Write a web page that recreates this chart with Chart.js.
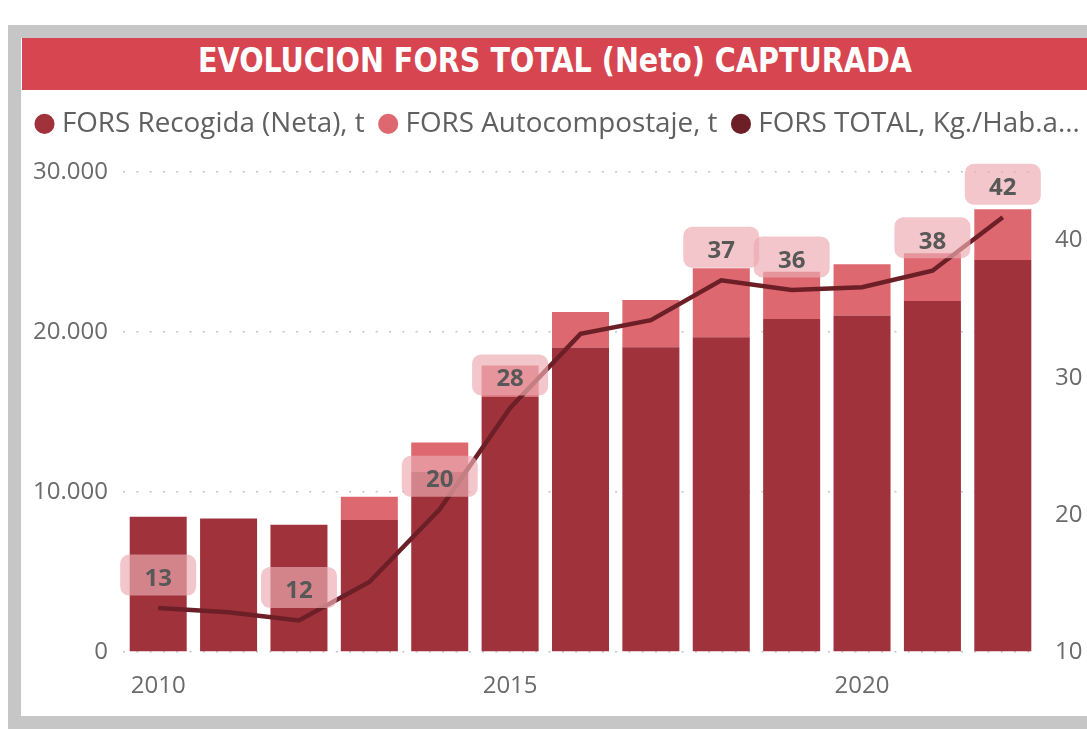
<!DOCTYPE html>
<html>
<head>
<meta charset="utf-8">
<script src="https://cdn.jsdelivr.net/npm/chart.js@4"></script>
<style>
    html, body { margin: 0; padding: 0; width: 1087px; height: 729px; overflow: hidden; background: #fff; }
    .frame { position: absolute; left: 8px; top: 25px; width: 1100px; height: 720px; background: #c6c6c6; }
    .panel { position: absolute; left: 21px; top: 38px; width: 1100px; height: 678px; background: #fff; }
    .title-bar {
        position: absolute; left: 22px; top: 38px; width: 1065px; height: 52px;
        background: #d64550; color: #fff; text-align: center;
        font-family: "DejaVu Sans Condensed", "DejaVu Sans", sans-serif; font-stretch: condensed;
        font-weight: bold; font-size: 33px; line-height: 46px; white-space: nowrap;
    }
    .title-bar span { display: inline-block; transform: scaleX(0.965); }
    .chart-box { position: absolute; left: 21px; top: 90px; }
</style>
</head>
<body>
<div class="frame"></div>
<div class="panel"></div>
<div class="title-bar"><span>EVOLUCION FORS TOTAL (Neto) CAPTURADA</span></div>
<div class="chart-box"><canvas id="forsChart" width="1100" height="625"></canvas></div>

<script>
// FORS data
const years = ['2010', '2011', '2012', '2013', '2014', '2015', '2016', '2017', '2018', '2019', '2020', '2021', '2022'];
const recogida = [8450, 8350, 7950, 8250, 11250, 15950, 19030, 19050, 19670, 20810, 21030, 21940, 24500];
const autocompost = [0, 0, 0, 1450, 1850, 1950, 2220, 2950, 4310, 2960, 3200, 2980, 3170];
const kgHab = [13.2, 12.9, 12.3, 15.1, 20.4, 27.8, 33.2, 34.2, 37.1, 36.4, 36.6, 37.8, 41.7];

// axis ticks
const leftTicks = [0, 10000, 20000, 30000];
const rightTicks = [10, 20, 30, 40];
const yearTicks = ['2010', '2015', '2020'];

// points of the line that carry a data label
const labelledYears = ['2010', '2012', '2014', '2015', '2018', '2019', '2021', '2022'];

const seriesNames = ['FORS Recogida (Neta), t', 'FORS Autocompostaje, t', 'FORS TOTAL, Kg./Hab.año'];

const fmtThousands = v => String(v).replace(/\B(?=(\d{3})+(?!\d))/g, '.');

// fixed legend height so the plot area lands where the reference has it
const fixLegendHeight = {
    id: 'fixLegendHeight',
    beforeInit(chart) {
        const fit = chart.legend.fit;
        chart.legend.fit = function () {
            fit.call(this);
            this.height = 82;
        };
    }
};

// rounded label boxes above the line points
const lineLabels = {
    id: 'lineLabels',
    afterDatasetsDraw(chart) {
        const meta = chart.getDatasetMeta(2);
        const ctx = chart.ctx;
        ctx.save();
        meta.data.forEach((pt, i) => {
            if (!labelledYears.includes(years[i])) return;
            const w = 76, h = 41;
            const cx = pt.x, cy = pt.y - 33;
            ctx.beginPath();
            ctx.roundRect(cx - w / 2, cy - h / 2, w, h, 9);
            ctx.fillStyle = 'rgba(236, 171, 177, 0.68)';
            ctx.fill();
            ctx.fillStyle = '#585858';
            ctx.font = 'bold 24px "Open Sans"';
            ctx.textAlign = 'center';
            ctx.textBaseline = 'alphabetic';
            ctx.fillText(Math.round(kgHab[i]), cx, cy + 11);
        });
        ctx.restore();
    }
};

const tickFont = { family: '"Open Sans"', size: 24 };

new Chart(document.getElementById('forsChart'), {
    type: 'bar',
    data: {
        labels: years,
        datasets: [
            {
                label: seriesNames[0],
                data: recogida,
                backgroundColor: '#a0323c',
                yAxisID: 'y',
                order: 1,
                categoryPercentage: 1,
                barPercentage: 0.81
            },
            {
                label: seriesNames[1],
                data: autocompost,
                backgroundColor: '#de6870',
                yAxisID: 'y',
                order: 1,
                categoryPercentage: 1,
                barPercentage: 0.81
            },
            {
                type: 'line',
                label: seriesNames[2],
                data: kgHab,
                borderColor: '#6d1f27',
                backgroundColor: '#6d1f27',
                borderWidth: 4.5,
                pointRadius: 0,
                tension: 0,
                yAxisID: 'y1',
                order: 0
            }
        ]
    },
    options: {
        responsive: false,
        animation: false,
        layout: { padding: 0 },
        plugins: {
            tooltip: { enabled: false },
            legend: {
                position: 'top',
                align: 'start',
                labels: {
                    usePointStyle: true,
                    pointStyle: 'circle',
                    boxWidth: 7,
                    boxHeight: 14.2,
                    padding: 20,
                    color: '#606060',
                    font: { family: '"Open Sans"', size: 27.8 },
                    sort: (a, b) => a.datasetIndex - b.datasetIndex,
                    generateLabels(chart) {
                        const items = Chart.defaults.plugins.legend.labels.generateLabels(chart);
                        items.forEach(it => {
                            it.lineWidth = 0;
                            if (it.datasetIndex === 2) it.text = 'FORS TOTAL, Kg./Hab.a...';
                        });
                        return items;
                    }
                }
            }
        },
        scales: {
            x: {
                stacked: true,
                grid: { display: false },
                border: { display: false },
                ticks: {
                    autoSkip: false,
                    maxRotation: 0,
                    padding: 12,
                    color: '#6b6b6b',
                    font: tickFont,
                    callback: (v, i) => yearTicks.includes(years[i]) ? years[i] : ''
                },
                afterFit: s => { s.height = 63; }
            },
            y: {
                stacked: true,
                position: 'left',
                min: 0,
                max: 30000,
                border: { display: false, dash: [2, 11.3] },
                grid: {
                    color: '#c4c4c4',
                    lineWidth: 1.5,
                    drawTicks: false
                },
                afterBuildTicks: s => { s.ticks = leftTicks.map(v => ({ value: v })); },
                ticks: {
                    padding: 15,
                    color: '#6b6b6b',
                    font: tickFont,
                    callback: v => fmtThousands(v)
                },
                afterFit: s => { s.width = 102; }
            },
            y1: {
                position: 'right',
                min: 10,
                max: 45,
                border: { display: false },
                grid: { display: false, drawTicks: false },
                afterBuildTicks: s => { s.ticks = rightTicks.map(v => ({ value: v })); },
                ticks: {
                    padding: 17,
                    color: '#6b6b6b',
                    font: tickFont
                },
                afterFit: s => { s.width = 83; }
            }
        }
    },
    plugins: [fixLegendHeight, lineLabels]
});
</script>
</body>
</html>
